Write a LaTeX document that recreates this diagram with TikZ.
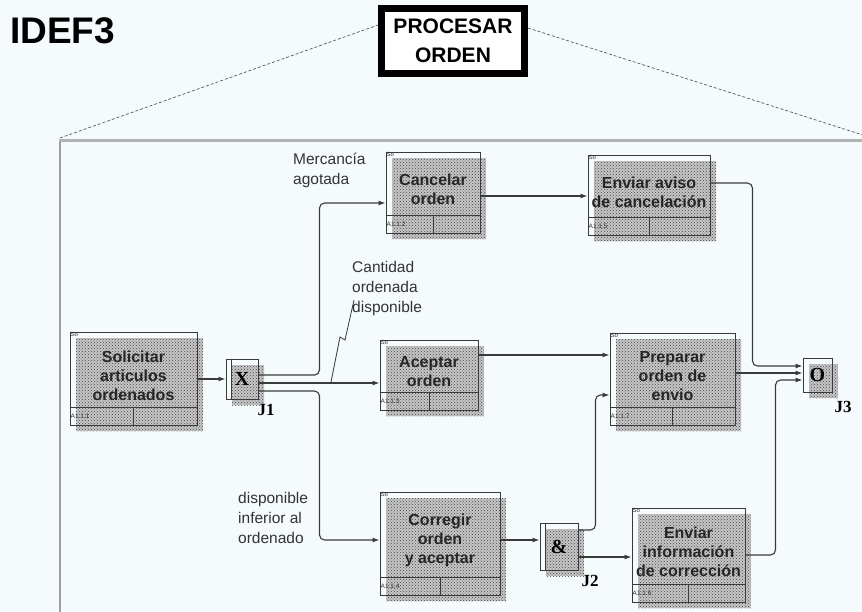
\documentclass[tikz,border=0pt]{standalone}
\usepackage{fontspec}
\setmainfont{Liberation Sans}
\newfontfamily\jfont{Liberation Serif}
\usetikzlibrary{patterns,arrows.meta}
\definecolor{bgc}{HTML}{F5FBFD}
\definecolor{linec}{HTML}{3A3A3A}

% activity box: name, cx, cy, width, height, text, number
\newcommand\actbox[7]{%
  \fill[stip] ({#2-#4/2+6},{#3-#5/2+6}) rectangle ({#2+#4/2+6},{#3+#5/2+6});
  \node[procbox, minimum width=#4pt, minimum height=#5pt] (#1) at (#2,#3) {};
  \draw[boxline] ([yshift=18pt]#1.south west) -- ([yshift=18pt]#1.south east);
  \draw[boxline] ([yshift=18pt]#1.south) -- (#1.south);
  \node[boxtext] at ([yshift=3pt]#1.center) {#6};
  \node[numtext, anchor=west] at ([xshift=1pt,yshift=9pt]#1.south west) {#7};
  \node[sotext, anchor=north west] at (#1.north west) {So};
}
% junction box: name, cx, cy, width, height, symbol
\newcommand\junc[6]{%
  \fill[stip] ({#2-#4/2+6},{#3-#5/2+6}) rectangle ({#2+#4/2+6},{#3+#5/2+6});
  \node[procbox, minimum width=#4pt, minimum height=#5pt, font=\jfont\bfseries\fontsize{20}{20}\selectfont] (#1) at (#2,#3) {#6};
}

\begin{document}
\begin{tikzpicture}[x=1pt,y=-1pt,
  stip/.style={fill=gray!45, postaction={pattern=crosshatch dots, pattern color=gray!55!black}},
  procbox/.style={draw=linec, line width=1pt, inner sep=0pt},
  boxline/.style={draw=linec, line width=0.9pt},
  boxtext/.style={font=\bfseries\fontsize{16}{19}\selectfont, align=center, text=black!85, inner sep=0pt},
  numtext/.style={font=\fontsize{6.5}{7}\selectfont, inner sep=0pt, text=black!80},
  sotext/.style={font=\fontsize{6}{6}\selectfont, inner sep=1pt, text=black!80},
  lbl/.style={font=\fontsize{15.5}{20}\selectfont, align=left, inner sep=0pt, text=black!80},
  jlbl/.style={font=\jfont\bfseries\fontsize{17}{17}\selectfont, inner sep=0pt},
  arr/.style={draw=linec, line width=1.1pt, rounded corners=5pt, -{Latex[length=7pt,width=5pt]}},
  zoomline/.style={draw=gray!70!black, densely dashed, line width=0.7pt}
]
\fill[bgc] (0,0) rectangle (862,611);
\useasboundingbox (0,0) rectangle (862,611);

% title
\node[font=\bfseries\fontsize{37}{37}\selectfont, anchor=west, inner sep=0pt] (idef) at (10,31) {IDEF3};

% decomposed activity
\node[draw=black, line width=7pt, fill=white, minimum width=143pt, minimum height=65pt, inner sep=0pt,
      font=\bfseries\fontsize{21}{29}\selectfont, align=center] (pro) at (453,41) {PROCESAR\\ORDEN};

% frame of the decomposition
\coordinate (fl) at (60,138);
\coordinate (fr) at (866,136);
\draw[gray!75, line width=1.3pt] (60,620) -- (60,140);
\draw[gray!60, line width=3pt] (59,140) -- (866,140);
\draw[zoomline] (fl) -- ([yshift=16pt]pro.west);
\draw[zoomline] ([yshift=13pt]pro.east) -- (fr);

% activities
\actbox{sol}{133.5}{378.5}{127}{93}{Solicitar\\articulos\\ordenados}{A1.1.1}
\actbox{can}{433}{192.5}{94}{81}{Cancelar\\orden}{A1.1.2}
\actbox{env}{649}{195}{122}{80}{Enviar aviso\\de cancelación}{A1.1.5}
\actbox{ace}{429}{375}{98}{70}{Aceptar\\orden}{A1.1.3}
\actbox{prep}{672.5}{379}{125}{92}{Preparar\\orden de\\envio}{A1.1.7}
\actbox{cor}{440}{543.5}{120}{103}{Corregir\\orden\\y aceptar}{A1.1.4}
\actbox{inf}{688.5}{555}{113}{94}{Enviar\\información\\de corrección}{A1.1.6}

% junctions
\junc{j1}{242}{379}{32}{40}{X}
\draw[boxline] ([xshift=6pt]j1.north west) -- ([xshift=6pt]j1.south west);
\junc{j2}{559}{546.5}{38}{47}{\&}
\draw[boxline] ([xshift=6pt]j2.north west) -- ([xshift=6pt]j2.south west);
\junc{j3}{817.5}{375}{29}{34}{O}
\node[jlbl] (j1l) at (266,410) {J1};
\node[jlbl] (j2l) at (590,581) {J2};
\node[jlbl] (j3l) at (843,407) {J3};

% labels
\node[lbl, anchor=north west] (merc) at (293,153) {Mercancía\\agotada};
\node[lbl, anchor=north west] (cant) at (352,261) {Cantidad\\ordenada\\disponible};
\node[lbl, anchor=north west] (infr) at (238,492) {disponible\\inferior al\\ordenado};
\draw[linec, line width=0.8pt] (354,300) -- (345,340) -- (340,337) -- (331,382);

% connectors
\draw[arr] (sol.east |- j1.west) -- (j1.west);
\draw[arr] ([yshift=4pt]j1.east) -- ++(61,0) |- ([yshift=-10.5pt]can.west);
\draw[arr] ([yshift=-4pt]j1.east) -- ([yshift=-4pt]j1.east -| ace.west);
\draw[arr] ([yshift=-12pt]j1.east) -- ++(61,0) |- ([yshift=3.5pt]cor.west);
\draw[arr] ([yshift=-3.5pt]can.east) -- ([yshift=-3.5pt]can.east -| env.west);
\draw[arr] ([yshift=12pt]env.east) -- ++(42,0) |- ([yshift=9pt]j3.west);
\draw[arr] ([yshift=20pt]ace.east) -- ([yshift=20pt]ace.east -| prep.west);
\draw[arr] ([yshift=2pt]j3.west -| prep.east) -- ([yshift=2pt]j3.west);
\draw[arr] ([yshift=3.5pt]cor.east) -- ([yshift=3.5pt]cor.east -| j2.west);
\draw[arr] ([yshift=16.5pt]j2.east) -- ++(17,0) |- ([yshift=-16pt]prep.west);
\draw[arr] ([yshift=-10.5pt]j2.east) -- ([yshift=-10.5pt]j2.east -| inf.west);
\draw[arr] (inf.east) -- ++(30,0) |- ([yshift=-5pt]j3.west);
\end{tikzpicture}
\end{document}
